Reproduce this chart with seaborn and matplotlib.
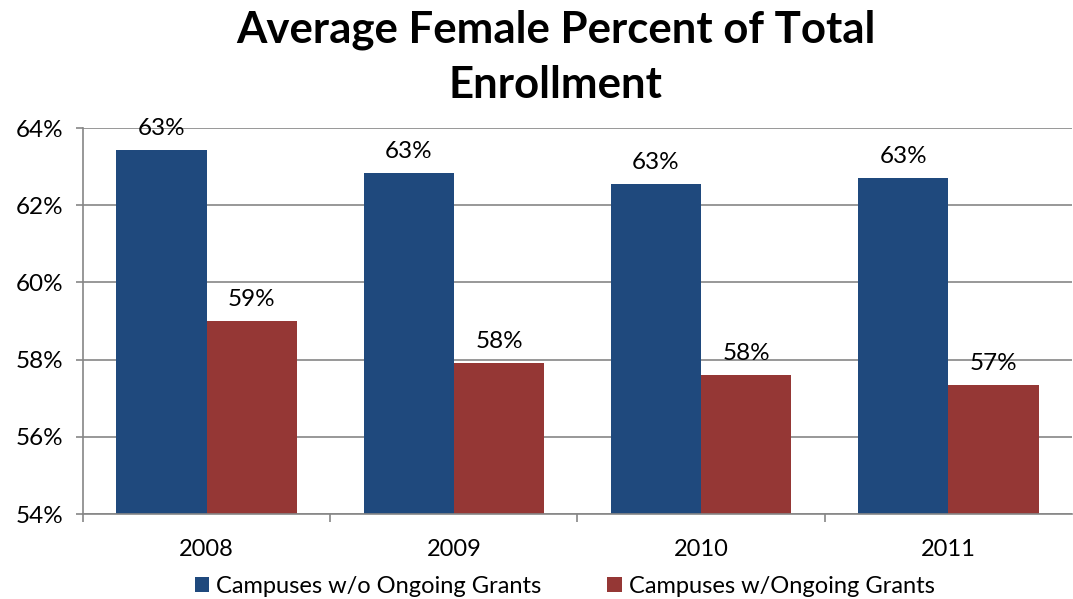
import pandas as pd
import matplotlib
matplotlib.use('Agg')
import matplotlib.pyplot as plt
import seaborn as sns
from matplotlib.ticker import FuncFormatter

years = ['2008', '2009', '2010', '2011']
without_grants = [63.43, 62.83, 62.55, 62.70]
with_grants = [59.0, 57.91, 57.60, 57.34]
series_names = ['Campuses w/o Ongoing Grants', 'Campuses w/Ongoing Grants']

df = pd.DataFrame({
    'year': years * 2,
    'pct': without_grants + with_grants,
    'group': [series_names[0]] * 4 + [series_names[1]] * 4,
})

sns.set_theme(style='white', rc={'text.color': 'black', 'xtick.color': 'black',
                                 'ytick.color': 'black', 'axes.labelcolor': 'black'})
plt.rcParams['font.family'] = ['Lato', 'DejaVu Sans']

fig = plt.figure(figsize=(10.73, 5.99), dpi=100)
ax = fig.add_axes([0.0774, 0.1419, 0.9216, 0.6444])

sns.barplot(data=df, x='year', y='pct', hue='group', palette=['#1F497D', '#953735'],
            width=0.73, ax=ax, legend=True, edgecolor='none', saturation=1)

ax.set_ylim(54, 64)
ax.set_yticks([54, 56, 58, 60, 62, 64])
ax.yaxis.set_major_formatter(FuncFormatter(lambda v, p: '%d%%' % v))
ax.set_xlim(-0.5, 3.5)
ax.grid(axis='y', color='#868686', linewidth=1.2)
ax.set_axisbelow(True)
ax.set_xlabel('')
ax.set_ylabel('')

for s in ['top', 'right']:
    ax.spines[s].set_visible(False)
for s in ['left', 'bottom']:
    ax.spines[s].set_color('#868686')
    ax.spines[s].set_linewidth(1.2)

# category boundary ticks on x
ax.set_xticks([0, 1, 2, 3])
ax.set_xticks([-0.5, 0.5, 1.5, 2.5], minor=True)
ax.tick_params(axis='x', which='major', length=0, labelsize=17, pad=18)
ax.tick_params(axis='x', which='minor', length=6, color='#868686', width=1.2, direction='out', bottom=True)
ax.tick_params(axis='y', length=5, color='#868686', width=1.2, direction='out', left=True, labelsize=17.5, pad=9)

for c in ax.containers:
    ax.bar_label(c, labels=['%d%%' % round(v) for v in c.datavalues], padding=8, fontsize=17.5)

ax.legend(loc='upper center', bbox_to_anchor=(0.487, -0.16), ncol=2, frameon=False,
          fontsize=17, handlelength=0.6, handleheight=0.6, handletextpad=0.3, columnspacing=2.8,
          borderpad=0, borderaxespad=0)

fig.text(0.518, 0.905, 'Average Female Percent of Total\nEnrollment', ha='center', va='center',
         fontsize=31.5, fontweight='bold', linespacing=1.45)

fig.savefig('out.png', dpi=100)
